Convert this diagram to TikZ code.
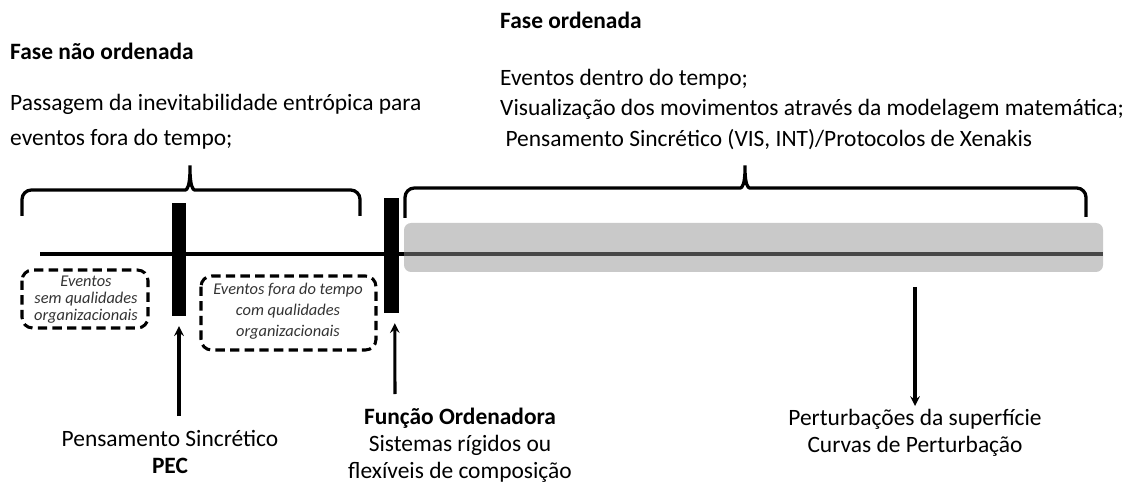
\documentclass[tikz,border=0pt]{standalone}
\usepackage{fontspec}
\setmainfont{Carlito}
\usetikzlibrary{positioning}
\begin{document}
\begin{tikzpicture}[x=0.03cm,y=-0.03cm,
  txt/.style={font=\fontsize{20}{24}\selectfont,align=left,inner sep=0pt,anchor=north west},
  lbl/.style={font=\fontsize{20}{23}\selectfont,align=center,inner sep=0pt},
  small/.style={font=\fontsize{14}{14.5}\selectfont\itshape,align=center,text=black!80},
  dbox/.style={draw,line width=2.6pt,dash pattern=on 8pt off 4.5pt,rounded corners=9pt},
  bar/.style={fill=black,draw=none,inner sep=0pt},
  brace/.style={line width=2.8pt,rounded corners=8pt},
  arr/.style={-stealth,line width=2.6pt}]
\useasboundingbox (0,0) rectangle (1126,486);
%testi in alto
\node[txt,font=\fontsize{20}{24}\selectfont\bfseries] (fno) at (10,43) {Fase não ordenada};
\node[txt] (pass) at (10,94) {Passagem da inevitabilidade entrópica para\\[6pt]eventos fora do tempo;};
\node[txt,font=\fontsize{20}{24}\selectfont\bfseries] (fo) at (500,12) {Fase ordenada};
\node[txt] (dentro) at (500,69) {Eventos dentro do tempo;\\[2pt]Visualização dos movimentos através da modelagem matemática;\\[2pt]\ Pensamento Sincrético (VIS, INT)/Protocolos de Xenakis};
%parentesi
\draw[brace] (22,216) |- (176,190) .. controls (187,190) and (190,186) .. (190,160)
  .. controls (190,186) and (193,190) .. (204,190) -| (360,216);
\draw[brace] (405,218) |- (731,188) .. controls (742,188) and (745,184) .. (745,160)
  .. controls (745,184) and (748,188) .. (759,188) -| (1086,217);
%fascia e linea del tempo
\fill[black!21,rounded corners=6pt] (404,223) rectangle (1103,272);
\draw[line width=2.6pt] (40,254) -- (404,254);
\draw[line width=2.6pt,black!72] (404,254) -- (1103,254);
%barre
\node[bar,minimum width=0.42cm,minimum height=3.39cm] (pec) at (179,259.5) {};
\node[bar,minimum width=0.45cm,minimum height=3.45cm] (fun) at (391.5,255.5) {};
%riquadri tratteggiati
\draw[dbox] (22,270) rectangle (148,328);
\node[small] (ev1) at (86,300) {Eventos\\sem qualidades\\organizacionais};
\draw[dbox] (201,276) rectangle (376,350);
\node[small,font=\fontsize{14}{18}\selectfont\itshape] (ev2) at (288,311) {Eventos fora do tempo\\com qualidades\\organizacionais};
%nomi in basso
\node[lbl] (pens) at (170,452) {Pensamento Sincrético\\\textbf{PEC}};
\node[lbl] (funtxt) at (460,445) {\textbf{Função Ordenadora}\\Sistemas rígidos ou\\flexíveis de composição};
\node[lbl] (pert) at (915,433) {Perturbações da superfície\\Curvas de Perturbação};
%frecce
\coordinate (a1) at (179,416);
\coordinate (a2) at (395,394);
\coordinate (a3) at (915,287);
\coordinate (b3) at (915,406);
\draw[arr] (a1) -- ([yshift=-0.3cm]pec.south);
\draw[arr] (a2) -- ([xshift=0.1cm,yshift=-0.3cm]fun.south);
\draw[arr] (a3) -- (b3);
\end{tikzpicture}
\end{document}
